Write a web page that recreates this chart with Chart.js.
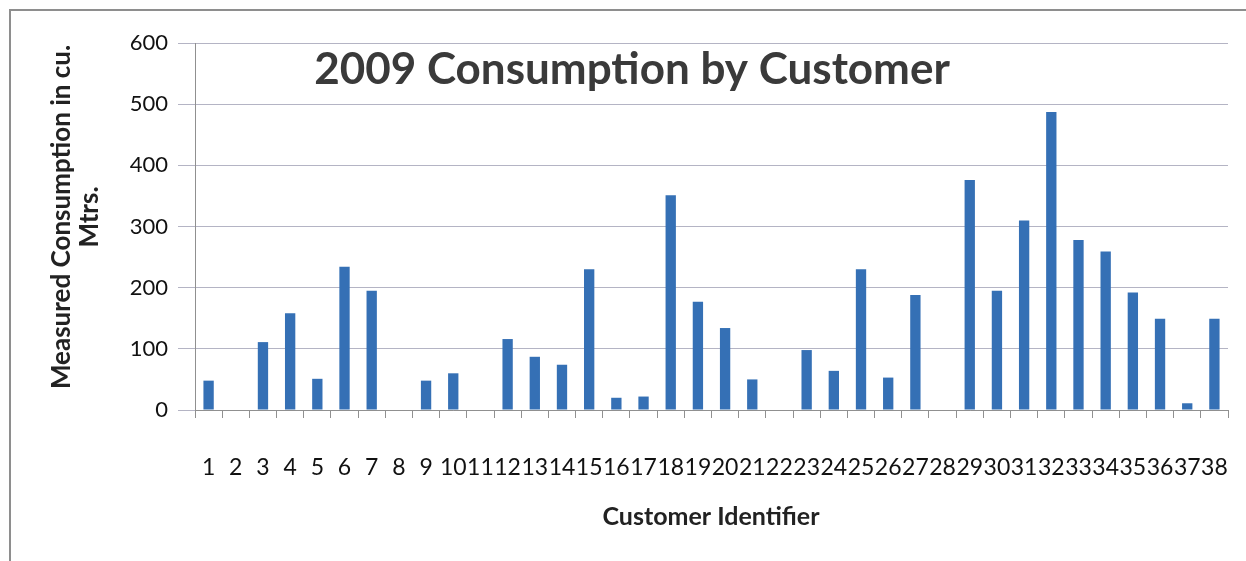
<!DOCTYPE html>
<html>
<head>
<meta charset="utf-8">
<script src="https://cdn.jsdelivr.net/npm/chart.js@4"></script>
<style>
  html, body { margin: 0; padding: 0; background: #fff; overflow: hidden; }
  #wrap { position: relative; width: 1246px; height: 561px; overflow: hidden; }
  #frame { position: absolute; left: 9px; top: 9px; width: 1300px; height: 700px; border: 2px solid #8e8e8e; }
  canvas { position: absolute; left: 0; top: 0; }
</style>
</head>
<body>
<div id="wrap">
  <div id="frame"></div>
  <canvas id="myBarChart" width="1246" height="561"></canvas>
</div>
<script>
var customers = [];
for (var i = 1; i <= 38; i++) customers.push(String(i));
var consumption = [48, 0, 111, 158, 51, 234, 195, 0, 48, 60,
                   0, 116, 87, 74, 230, 20, 22, 351, 177, 134,
                   50, 0, 98, 64, 230, 53, 188, 0, 376, 195,
                   310, 487, 278, 259, 192, 149, 11, 149];
var yTicks = [0, 100, 200, 300, 400, 500, 600];

var fontFam = "Lato, 'Open Sans', sans-serif";

// title sits inside the plot, axis titles placed by hand
var textPlugin = {
  id: 'chartTexts',
  afterDatasetsDraw: function(chart) {
    var ctx = chart.ctx;
    ctx.save();
    ctx.fillStyle = '#3a3a3a';
    ctx.textAlign = 'center';
    ctx.textBaseline = 'middle';
    ctx.font = "bold 44px " + fontFam;
    ctx.fillText('2009 Consumption by Customer', 632, 70);

    ctx.fillStyle = '#222';
    ctx.font = "bold 25px " + fontFam;
    ctx.fillText('Customer Identifier', 711, 517);

    ctx.translate(76, 217);
    ctx.rotate(-Math.PI / 2);
    ctx.font = "bold 26px " + fontFam;
    ctx.fillText('Measured Consumption in cu.', 0, -14);
    ctx.fillText('Mtrs.', 0, 14);
    ctx.restore();
  }
};

document.addEventListener("DOMContentLoaded", function() {
  var ctx = document.getElementById("myBarChart").getContext('2d');
  new Chart(ctx, {
    type: 'bar',
    data: {
      labels: customers,
      datasets: [{
        data: consumption,
        backgroundColor: '#3570b5',
        categoryPercentage: 1,
        barPercentage: 0.38
      }]
    },
    options: {
      responsive: false,
      animation: false,
      layout: { padding: { left: 0, top: 43, right: 18, bottom: 0 } },
      plugins: {
        legend: { display: false },
        title: { display: false },
        tooltip: { enabled: false }
      },
      scales: {
        x: {
          grid: { drawOnChartArea: false, drawTicks: true, tickLength: 8, color: '#909090' },
          border: { color: '#909090' },
          ticks: {
            autoSkip: false, maxRotation: 0, minRotation: 0, padding: 36,
            color: '#111', font: { family: fontFam, size: 23 }
          },
          afterFit: function(scale) {
            scale.height = 151;
            scale.paddingLeft = 0;
            scale.paddingRight = 0;
          }
        },
        y: {
          min: 0, max: 600,
          afterBuildTicks: function(scale) {
            scale.ticks = yTicks.map(function(v) { return { value: v }; });
          },
          grid: { color: '#b4b4c4', tickLength: 17 },
          border: { color: '#909090' },
          ticks: { color: '#111', padding: 10, font: { family: fontFam, size: 22 } },
          afterFit: function(scale) {
            scale.width = 195;
            scale.paddingTop = 0;
            scale.paddingBottom = 0;
          }
        }
      }
    },
    plugins: [textPlugin]
  });
});
</script>
</body>
</html>
